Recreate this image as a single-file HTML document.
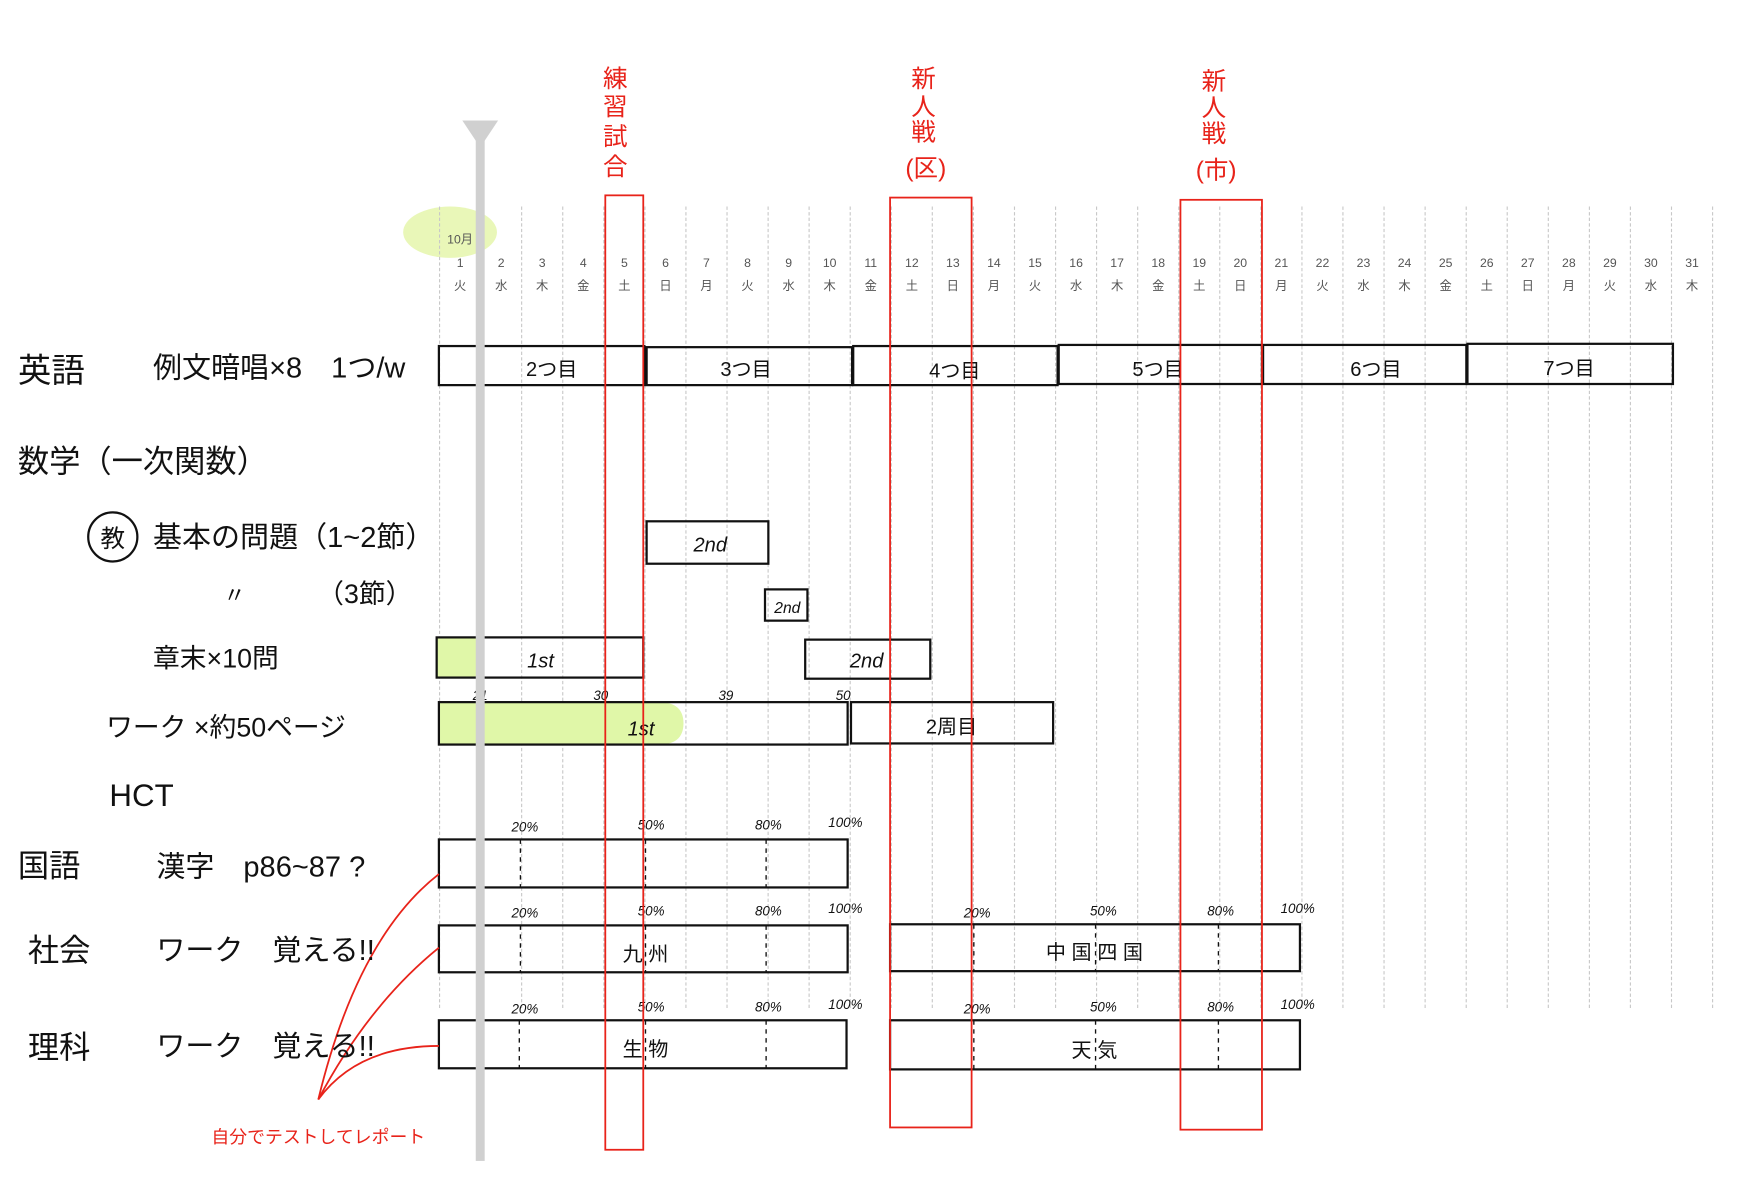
<!DOCTYPE html>
<html><head><meta charset="utf-8"><style>
html,body{margin:0;padding:0;background:#fff;}
svg{display:block;}
text{font-family:"Liberation Sans","Noto Sans CJK JP",sans-serif;}
.d{font-size:11px;fill:#555;text-anchor:middle;}
.h{font-size:26px;fill:#111;}
.b{font-size:18px;fill:#111;text-anchor:middle;}
.p{font-size:12px;fill:#111;font-style:italic;text-anchor:middle;}
.r{fill:#e8231a;font-size:22px;text-anchor:middle;}
</style></head><body>
<svg width="1750" height="1200" viewBox="0 0 1567 1075" preserveAspectRatio="none" xmlns="http://www.w3.org/2000/svg">
<rect width="1567" height="1075" fill="#fff"/>
<ellipse cx="403" cy="208" rx="42" ry="23" fill="#e9f7b8"/>
<g stroke="#c8c8c8" stroke-width="1" stroke-dasharray="3,2">
<line x1="393.6" y1="185" x2="393.6" y2="905"/><line x1="430.4" y1="185" x2="430.4" y2="905"/><line x1="467.1" y1="185" x2="467.1" y2="905"/><line x1="503.9" y1="185" x2="503.9" y2="905"/><line x1="540.7" y1="185" x2="540.7" y2="905"/><line x1="577.5" y1="185" x2="577.5" y2="905"/><line x1="614.2" y1="185" x2="614.2" y2="905"/><line x1="651" y1="185" x2="651" y2="905"/><line x1="687.8" y1="185" x2="687.8" y2="905"/><line x1="724.5" y1="185" x2="724.5" y2="905"/><line x1="761.3" y1="185" x2="761.3" y2="905"/><line x1="798.1" y1="185" x2="798.1" y2="905"/><line x1="834.8" y1="185" x2="834.8" y2="905"/><line x1="871.6" y1="185" x2="871.6" y2="905"/><line x1="908.4" y1="185" x2="908.4" y2="905"/><line x1="945.2" y1="185" x2="945.2" y2="905"/><line x1="981.9" y1="185" x2="981.9" y2="905"/><line x1="1018.7" y1="185" x2="1018.7" y2="905"/><line x1="1055.5" y1="185" x2="1055.5" y2="905"/><line x1="1092.2" y1="185" x2="1092.2" y2="905"/><line x1="1129" y1="185" x2="1129" y2="905"/><line x1="1165.8" y1="185" x2="1165.8" y2="905"/><line x1="1202.5" y1="185" x2="1202.5" y2="905"/><line x1="1239.3" y1="185" x2="1239.3" y2="905"/><line x1="1276.1" y1="185" x2="1276.1" y2="905"/><line x1="1312.9" y1="185" x2="1312.9" y2="905"/><line x1="1349.6" y1="185" x2="1349.6" y2="905"/><line x1="1386.4" y1="185" x2="1386.4" y2="905"/><line x1="1423.2" y1="185" x2="1423.2" y2="905"/><line x1="1459.9" y1="185" x2="1459.9" y2="905"/><line x1="1496.7" y1="185" x2="1496.7" y2="905"/><line x1="1533.5" y1="185" x2="1533.5" y2="905"/>
</g>
<text x="412" y="218" class="d">10月</text>
<g class="d">
<text x="412" y="239" class="d">1</text><text x="448.8" y="239" class="d">2</text><text x="485.5" y="239" class="d">3</text><text x="522.3" y="239" class="d">4</text><text x="559.1" y="239" class="d">5</text><text x="595.9" y="239" class="d">6</text><text x="632.6" y="239" class="d">7</text><text x="669.4" y="239" class="d">8</text><text x="706.2" y="239" class="d">9</text><text x="742.9" y="239" class="d">10</text><text x="779.7" y="239" class="d">11</text><text x="816.5" y="239" class="d">12</text><text x="853.2" y="239" class="d">13</text><text x="890" y="239" class="d">14</text><text x="926.8" y="239" class="d">15</text><text x="963.6" y="239" class="d">16</text><text x="1000.3" y="239" class="d">17</text><text x="1037.1" y="239" class="d">18</text><text x="1073.9" y="239" class="d">19</text><text x="1110.6" y="239" class="d">20</text><text x="1147.4" y="239" class="d">21</text><text x="1184.2" y="239" class="d">22</text><text x="1220.9" y="239" class="d">23</text><text x="1257.7" y="239" class="d">24</text><text x="1294.5" y="239" class="d">25</text><text x="1331.3" y="239" class="d">26</text><text x="1368" y="239" class="d">27</text><text x="1404.8" y="239" class="d">28</text><text x="1441.6" y="239" class="d">29</text><text x="1478.3" y="239" class="d">30</text><text x="1515.1" y="239" class="d">31</text>
<text x="412" y="260" class="d">火</text><text x="448.8" y="260" class="d">水</text><text x="485.5" y="260" class="d">木</text><text x="522.3" y="260" class="d">金</text><text x="559.1" y="260" class="d">土</text><text x="595.9" y="260" class="d">日</text><text x="632.6" y="260" class="d">月</text><text x="669.4" y="260" class="d">火</text><text x="706.2" y="260" class="d">水</text><text x="742.9" y="260" class="d">木</text><text x="779.7" y="260" class="d">金</text><text x="816.5" y="260" class="d">土</text><text x="853.2" y="260" class="d">日</text><text x="890" y="260" class="d">月</text><text x="926.8" y="260" class="d">火</text><text x="963.6" y="260" class="d">水</text><text x="1000.3" y="260" class="d">木</text><text x="1037.1" y="260" class="d">金</text><text x="1073.9" y="260" class="d">土</text><text x="1110.6" y="260" class="d">日</text><text x="1147.4" y="260" class="d">月</text><text x="1184.2" y="260" class="d">火</text><text x="1220.9" y="260" class="d">水</text><text x="1257.7" y="260" class="d">木</text><text x="1294.5" y="260" class="d">金</text><text x="1331.3" y="260" class="d">土</text><text x="1368" y="260" class="d">日</text><text x="1404.8" y="260" class="d">月</text><text x="1441.6" y="260" class="d">火</text><text x="1478.3" y="260" class="d">水</text><text x="1515.1" y="260" class="d">木</text>
</g>
<rect x="391" y="571" width="37" height="36" fill="#e0f7a8"/>
<path d="M393 629 H590 Q612 629 612 648 Q612 667 590 667 H393 Z" fill="#e0f7a8"/>
<g fill="none" stroke="#111" stroke-width="2">
<rect x="393" y="310" width="184" height="35"/><rect x="579" y="311" width="184" height="34"/><rect x="764" y="310" width="183" height="35"/><rect x="948" y="309" width="182" height="35"/><rect x="1131" y="309" width="182" height="35"/><rect x="1314" y="308" width="184" height="36"/>
<rect x="579" y="467" width="109" height="38"/>
<rect x="685" y="528" width="38" height="28"/>
<rect x="391" y="571" width="185" height="36"/>
<rect x="721" y="573" width="112" height="35"/>
<rect x="393" y="629" width="366" height="38"/>
<rect x="762" y="629" width="181" height="37"/>
<rect x="393" y="752" width="366" height="43"/>
<rect x="393" y="829" width="366" height="42"/>
<rect x="797" y="828" width="367" height="42"/>
<rect x="393" y="914" width="365" height="43"/>
<rect x="797" y="914" width="367" height="44"/>
</g>
<g stroke="#111" stroke-width="1.2" stroke-dasharray="4,4">
<line x1="466" y1="752" x2="466" y2="795"/><line x1="578" y1="752" x2="578" y2="795"/><line x1="686" y1="752" x2="686" y2="795"/>
<line x1="466" y1="829" x2="466" y2="871"/><line x1="578" y1="829" x2="578" y2="871"/><line x1="686" y1="829" x2="686" y2="871"/>
<line x1="465" y1="914" x2="465" y2="957"/><line x1="578" y1="914" x2="578" y2="957"/><line x1="686" y1="914" x2="686" y2="957"/>
<line x1="872" y1="828" x2="872" y2="870"/><line x1="981" y1="828" x2="981" y2="870"/><line x1="1091" y1="828" x2="1091" y2="870"/>
<line x1="872" y1="914" x2="872" y2="958"/><line x1="981" y1="914" x2="981" y2="958"/><line x1="1091" y1="914" x2="1091" y2="958"/>
</g>
<text x="494" y="337" class="b">2つ目</text><text x="668" y="337" class="b">3つ目</text><text x="855" y="338" class="b">4つ目</text><text x="1037" y="337" class="b">5つ目</text><text x="1232" y="337" class="b">6つ目</text><text x="1405" y="336" class="b">7つ目</text>
<text x="636" y="494" class="b" style="font-style:italic">2nd</text>
<text x="705" y="549" class="b" style="font-size:14px;font-style:italic">2nd</text>
<text x="484" y="598" class="b" style="font-style:italic">1st</text>
<text x="776" y="598" class="b" style="font-style:italic">2nd</text>
<text x="574" y="659" class="b" style="font-style:italic">1st</text>
<text x="852" y="657" class="b">2周目</text>
<text x="578" y="861" class="b">九 州</text>
<text x="980" y="859" class="b">中 国 四 国</text>
<text x="578" y="946" class="b">生 物</text>
<text x="980" y="947" class="b">天 気</text>
<g class="p">
<text x="430" y="627">21</text><text x="538" y="627">30</text><text x="650" y="627">39</text><text x="755" y="627">50</text>
<text x="470" y="745">20%</text><text x="583" y="743">50%</text><text x="688" y="743">80%</text><text x="757" y="741">100%</text>
<text x="470" y="822">20%</text><text x="583" y="820">50%</text><text x="688" y="820">80%</text><text x="757" y="818">100%</text>
<text x="470" y="908">20%</text><text x="583" y="906">50%</text><text x="688" y="906">80%</text><text x="757" y="904">100%</text>
<text x="875" y="822">20%</text><text x="988" y="820">50%</text><text x="1093" y="820">80%</text><text x="1162" y="818">100%</text>
<text x="875" y="908">20%</text><text x="988" y="906">50%</text><text x="1093" y="906">80%</text><text x="1162" y="904">100%</text>
</g>
<rect x="426" y="120" width="8" height="920" fill="#d0d0d0"/>
<polygon points="414,108 446,108 430,132" fill="#d0d0d0"/>
<g fill="none" stroke="#e8231a" stroke-width="1.6">
<rect x="542" y="175" width="34" height="855"/>
<rect x="797" y="177" width="73" height="833"/>
<rect x="1057" y="179" width="73" height="833"/>
<path d="M285 985 Q320 840 393 783"/>
<path d="M285 985 Q330 900 393 849"/>
<path d="M285 985 Q320 937 393 937"/>
</g>
<g class="r">
<text x="551" y="78">練</text><text x="551" y="103">習</text><text x="551" y="130">試</text><text x="551" y="157">合</text>
<text x="827" y="78">新</text><text x="827" y="103">人</text><text x="827" y="126">戦</text><text x="829" y="158">(区)</text>
<text x="1087" y="80">新</text><text x="1087" y="104">人</text><text x="1087" y="127">戦</text><text x="1089" y="160">(市)</text>
</g>
<text x="285" y="1024" class="r" style="font-size:16px">自分でテストしてレポート</text>
<text x="16" y="342" class="h" style="font-size:30px">英語</text>
<text x="137" y="338" class="h">例文暗唱×8　1つ/w</text>
<text x="16" y="423" class="h" style="font-size:28px">数学（一次関数）</text>
<circle cx="101" cy="481" r="22" fill="none" stroke="#111" stroke-width="2"/>
<text x="101" y="490" class="h" style="font-size:22px;text-anchor:middle">教</text>
<text x="137" y="490" class="h">基本の問題（1~2節）</text>
<text x="200" y="540" class="h" style="font-size:20px">〃</text>
<text x="284" y="540" class="h" style="font-size:24px">（3節）</text>
<text x="137" y="598" class="h" style="font-size:24px">章末×10問</text>
<text x="95" y="660" class="h" style="font-size:24px">ワーク ×約50ページ</text>
<text x="98" y="722" class="h" style="font-size:28px">HCT</text>
<text x="16" y="785" class="h" style="font-size:28px">国語</text>
<text x="140" y="785" class="h">漢字　p86~87 ?</text>
<text x="25" y="861" class="h" style="font-size:28px">社会</text>
<text x="140" y="860" class="h">ワーク　覚える!!</text>
<text x="25" y="948" class="h" style="font-size:28px">理科</text>
<text x="140" y="946" class="h">ワーク　覚える!!</text>
</svg>
</body></html>
